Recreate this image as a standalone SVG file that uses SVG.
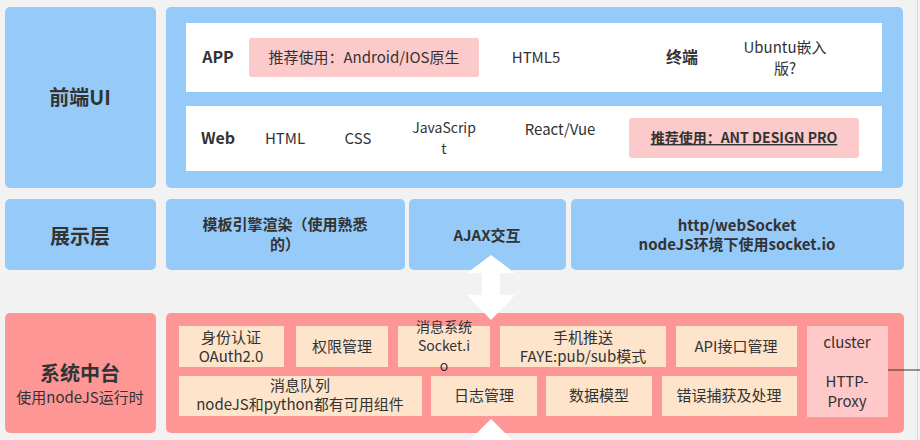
<svg xmlns="http://www.w3.org/2000/svg" width="920" height="440" viewBox="0 0 920 440">
<style>
text{font-family:"Noto Sans CJK SC","Liberation Sans",sans-serif;fill:#333;text-anchor:middle}
.b{font-weight:bold}
.t15{font-size:15px}
.t14{font-size:14px}
.t16{font-size:16px}
.t20{font-size:20px}
.blue{fill:#96caf8}
.white{fill:#ffffff}
.pinkbox{fill:#fccaca}
.red{fill:#ff9696}
.peach{fill:#fde4cb}
.lpink{fill:#ffc9c9}
</style>
<rect x="0" y="0" width="920" height="440" fill="#f2f2f2"/>
<line x1="917.5" y1="0" x2="917.5" y2="440" stroke="#d9d9d9" stroke-width="1"/>

<g id="frontend-label"><rect class="blue" x="5" y="7" width="151" height="181" rx="5"/><text class="b t20" x="80" y="105">前端UI</text></g>
<g id="frontend-panel">
<rect class="blue" x="166" y="7" width="737" height="181" rx="5"/>
<rect class="white" x="186" y="23" width="696" height="69"/>
<rect class="white" x="186" y="106" width="696" height="65"/>
</g>
<g id="app-row">
<text class="b t16" x="218" y="63">APP</text>
<rect class="pinkbox" x="249" y="38" width="230" height="39" rx="3"/>
<text class="t15" x="364" y="63">推荐使用：Android/IOS原生</text>
<text class="t15" x="536" y="63">HTML5</text>
<text class="b t16" x="682" y="63">终端</text>
<text class="t15" x="785" y="53">Ubuntu嵌入</text>
<text class="t15" x="785" y="74">版?</text>
</g>
<g id="web-row">
<text class="b t16" x="218" y="144">Web</text>
<text class="t15" x="285" y="144">HTML</text>
<text class="t15" x="358" y="144">CSS</text>
<text class="t14" x="444" y="133">JavaScrip</text>
<text class="t14" x="444" y="154">t</text>
<text class="t15" x="560" y="135">React/Vue</text>
<rect class="pinkbox" x="629" y="118" width="230" height="40" rx="3"/>
<text class="b t14" x="744" y="143" text-decoration="underline">推荐使用：ANT DESIGN PRO</text>
</g>

<g id="display-label"><rect class="blue" x="5" y="199" width="151" height="71" rx="5"/><text class="b t20" x="80" y="244">展示层</text></g>
<g id="template"><rect class="blue" x="166" y="199" width="239" height="71" rx="5"/><text class="b t15" x="285" y="230">模板引擎渲染（使用熟悉</text><text class="b t15" x="285" y="250">的）</text></g>
<g id="ajax"><rect class="blue" x="409" y="199" width="157" height="71" rx="5"/><text class="b t15" x="487" y="241">AJAX交互</text></g>
<g id="http"><rect class="blue" x="571" y="199" width="333" height="71" rx="5"/><text class="b t15" x="737" y="231">http/webSocket</text><text class="b t15" x="737" y="250">nodeJS环境下使用socket.io</text></g>

<g id="system-label"><rect class="red" x="5" y="313" width="151" height="120" rx="5"/><text class="b t20" x="80" y="381">系统中台</text><text class="t15" x="80" y="403">使用nodeJS运行时</text></g>
<g id="system-panel"><rect class="red" x="166" y="313" width="738" height="120" rx="5"/></g>
<g id="auth"><rect class="peach" x="179" y="326" width="105" height="41"/><text class="t15" x="231" y="343">身份认证</text><text class="t15" x="231" y="362">OAuth2.0</text></g>
<g id="perm"><rect class="peach" x="296" y="326" width="92" height="41"/><text class="t15" x="342" y="352">权限管理</text></g>
<g id="msg"><rect class="peach" x="398" y="326" width="92" height="41"/><text class="t14" x="444" y="332">消息系统</text><text class="t14" x="444" y="351">Socket.i</text><text class="t14" x="444" y="371">o</text></g>
<g id="push"><rect class="peach" x="500" y="326" width="166" height="41"/><text class="t15" x="583" y="343">手机推送</text><text class="t15" x="583" y="362">FAYE:pub/sub模式</text></g>
<g id="api"><rect class="peach" x="676" y="326" width="121" height="41"/><text class="t15" x="736" y="352">API接口管理</text></g>
<g id="cluster"><rect class="lpink" x="807" y="326" width="81" height="91"/><text class="t15" x="847" y="348">cluster</text><text class="t15" x="847" y="387">HTTP-</text><text class="t15" x="847" y="407">Proxy</text></g>
<g id="queue"><rect class="peach" x="179" y="376" width="243" height="40"/><text class="t15" x="300" y="391">消息队列</text><text class="t15" x="300" y="410">nodeJS和python都有可用组件</text></g>
<g id="log"><rect class="peach" x="431" y="376" width="106" height="40"/><text class="t15" x="484" y="401">日志管理</text></g>
<g id="model"><rect class="peach" x="546" y="376" width="106" height="40"/><text class="t15" x="599" y="401">数据模型</text></g>
<g id="error"><rect class="peach" x="662" y="376" width="135" height="40"/><text class="t15" x="729" y="401">错误捕获及处理</text></g>

<g id="connectors">
<polygon fill="#ffffff" points="491,255 515,273 500,273 500,295 515,295 491,320 467,295 482,295 482,273 467,273"/>
<polygon fill="#ffffff" points="491,419 515,443 467,443"/>
<line x1="888" y1="370" x2="920" y2="370" stroke="#333" stroke-width="1"/>
</g>
</svg>
